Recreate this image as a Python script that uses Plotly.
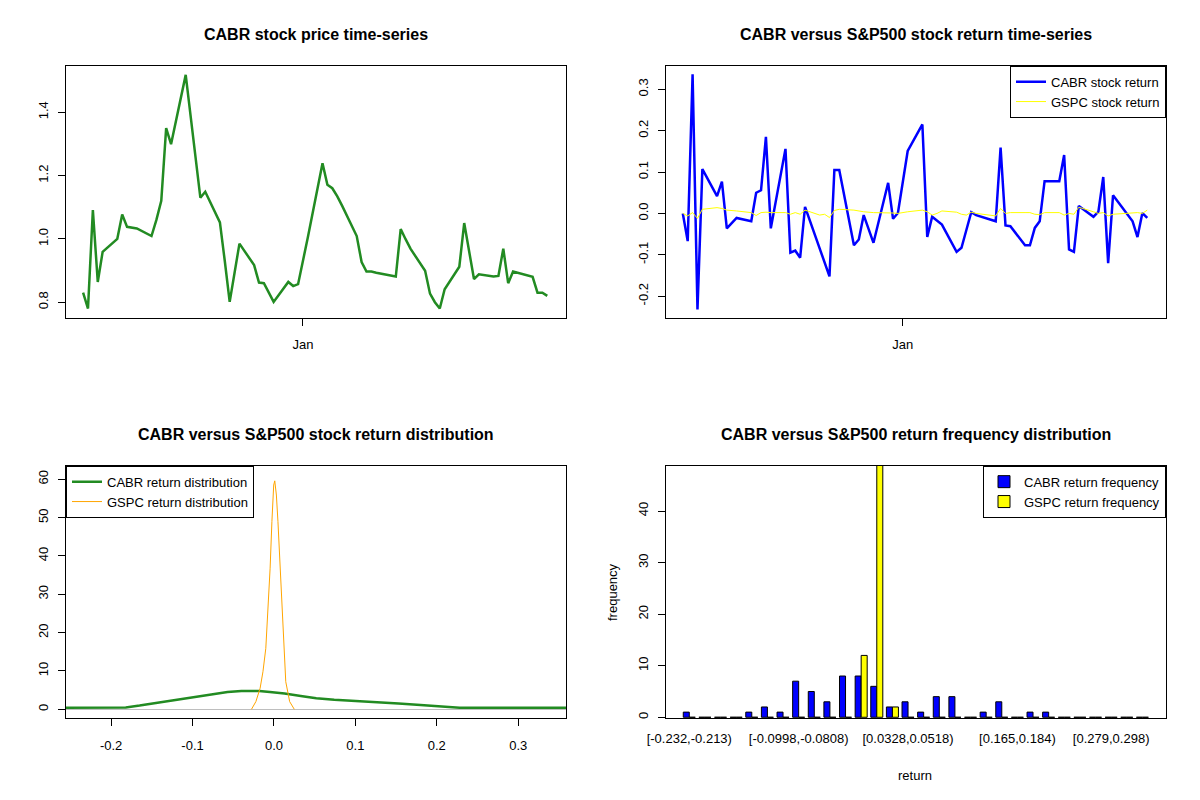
import plotly.graph_objects as go

# trading days shown in the two time-series panels
dates = ["2014-11-17", "2014-11-18", "2014-11-19", "2014-11-20", "2014-11-21",
         "2014-11-24", "2014-11-25", "2014-11-26", "2014-11-28",
         "2014-12-01", "2014-12-02", "2014-12-03", "2014-12-04", "2014-12-05",
         "2014-12-08", "2014-12-09", "2014-12-10", "2014-12-11", "2014-12-12",
         "2014-12-15", "2014-12-16", "2014-12-17", "2014-12-18", "2014-12-19",
         "2014-12-22", "2014-12-23", "2014-12-24", "2014-12-26",
         "2014-12-29", "2014-12-30", "2014-12-31", "2015-01-02",
         "2015-01-05", "2015-01-06", "2015-01-07", "2015-01-08", "2015-01-09",
         "2015-01-12", "2015-01-13", "2015-01-14", "2015-01-15", "2015-01-16",
         "2015-01-20", "2015-01-21", "2015-01-22", "2015-01-23",
         "2015-01-26", "2015-01-27", "2015-01-28", "2015-01-29", "2015-01-30",
         "2015-02-02", "2015-02-03", "2015-02-04", "2015-02-05", "2015-02-06",
         "2015-02-09", "2015-02-10", "2015-02-11", "2015-02-12", "2015-02-13",
         "2015-02-17", "2015-02-18", "2015-02-19", "2015-02-20"]

cabr_price = [0.830, 0.780, 1.091, 0.864, 0.959, 1.000, 1.077, 1.038, 1.033,
              1.009, 1.060, 1.120, 1.350, 1.299, 1.518, 1.395, 1.265, 1.130, 1.149,
              1.052, 0.930, 0.801, 0.893, 0.985, 0.917, 0.862, 0.860, 0.801,
              0.864, 0.851, 0.857, 1.005, 1.239, 1.171, 1.160, 1.135, 1.105,
              1.009, 0.927, 0.897, 0.897, 0.893, 0.881, 1.031, 0.999, 0.969,
              0.899, 0.827, 0.800, 0.780, 0.841, 0.912, 1.050, 0.962, 0.873, 0.888,
              0.881, 0.883, 0.969, 0.860, 0.897, 0.880, 0.830, 0.830, 0.820]

cabr_return = [0.000, -0.067, 0.336, -0.232, 0.107, 0.042, 0.077, -0.036, -0.011,
               -0.019, 0.050, 0.056, 0.185, -0.036, 0.156, -0.095, -0.090, -0.107, 0.016,
               -0.085, -0.120, -0.152, 0.105, 0.105, -0.077, -0.063, -0.004, -0.071,
               0.074, -0.013, 0.001, 0.151, 0.215, -0.057, -0.008, -0.017, -0.027,
               -0.093, -0.083, -0.040, 0.003, -0.004, -0.019, 0.159, -0.029, -0.031,
               -0.077, -0.077, -0.035, -0.019, 0.078, 0.078, 0.141, -0.087, -0.093, 0.018,
               -0.008, 0.004, 0.088, -0.120, 0.044, -0.019, -0.057, 0.001, -0.011]

gspc_return = [0.000, -0.006, 0.002, -0.012, 0.010, 0.014, 0.012, 0.008, 0.006,
               0.002, -0.005, 0.002, 0.003, 0.002, 0.002, -0.002, 0.002, -0.002, 0.008,
               -0.004, -0.002, -0.010, 0.007, 0.010, 0.008, 0.006, 0.004, 0.002,
               0.002, 0.001, 0.000, 0.004, 0.008, 0.004, -0.004, 0.000, 0.006,
               0.003, -0.002, -0.004, 0.003, 0.000, -0.006, 0.012, 0.000, 0.002,
               0.002, 0.002, -0.002, -0.003, 0.002, 0.002, -0.004, 0.000, -0.002, 0.015,
               0.004, 0.000, 0.002, -0.006, -0.002, 0.002, 0.002, 0.000, 0.008]

# density curves
cabr_dens_x = [-0.256, -0.182, -0.165, -0.145, -0.123, -0.101, -0.079, -0.057, -0.040,
               -0.018, -0.005, 0.013, 0.035, 0.052, 0.074, 0.101, 0.127, 0.153,
               0.180, 0.206, 0.228, 0.359]
cabr_dens_y = [0.43, 0.5, 0.96, 1.6, 2.35, 3.1, 3.9, 4.5, 4.8,
               4.8, 4.5, 4.1, 3.4, 2.9, 2.5, 2.2, 1.8, 1.5,
               1.1, 0.8, 0.43, 0.43]
gspc_dens_x = [-0.0276, -0.0222, -0.0170, -0.0135, -0.0100, -0.0069, -0.0047, -0.0025,
               -0.0003, 0.0010, 0.0030, 0.0049, 0.0075, 0.0097, 0.0119, 0.0145,
               0.0193, 0.0250]
gspc_dens_y = [0.0, 2.0, 5.5, 9.8, 15.9, 27.2, 36.8, 49.0,
               58.5, 59.6, 55.9, 49.0, 36.8, 25.5, 15.9, 7.2,
               2.0, 0.0]

# return frequency bins
bin_labels = ["[-0.232,-0.213)", "[-0.213,-0.194)", "[-0.194,-0.176)", "[-0.176,-0.157)",
              "[-0.157,-0.138)", "[-0.138,-0.119)", "[-0.119,-0.0998)", "[-0.0998,-0.0808)",
              "[-0.0808,-0.0619)", "[-0.0619,-0.0429)", "[-0.0429,-0.024)", "[-0.024,-0.00504)",
              "[-0.00504,0.0139)", "[0.0139,0.0328)", "[0.0328,0.0518)", "[0.0518,0.0707)",
              "[0.0707,0.0897)", "[0.0897,0.109)", "[0.109,0.128)", "[0.128,0.146)",
              "[0.146,0.165)", "[0.165,0.184)", "[0.184,0.203)", "[0.203,0.222)",
              "[0.222,0.241)", "[0.241,0.26)", "[0.26,0.279)", "[0.279,0.298)",
              "[0.298,0.317)", "[0.317,0.336)"]
cabr_freq = [1, 0, 0, 0, 1, 2, 1, 7, 5, 3, 8, 8, 6, 2, 3, 1, 4, 4, 0, 1, 3, 0, 1, 1,
             0, 0, 0, 0, 0, 0]
gspc_freq = [0, 0, 0, 0, 0, 0, 0, 0, 0, 0, 0, 12, 49, 2, 0, 0, 0, 0, 0, 0, 0, 0, 0, 0,
             0, 0, 0, 0, 0, 0]
shown_bins = [bin_labels[0], bin_labels[7], bin_labels[14], bin_labels[21], bin_labels[27]]

FONT = "Arial, Liberation Sans, sans-serif"
W, H = 1200, 800
PAGE_OFF = 8  # the page body puts the plot 8px in from the top-left corner


def px(x):
    return (x - PAGE_OFF) / W


def py(y):
    return 1 - (y - PAGE_OFF) / H


fig = go.Figure()

fig.add_trace(go.Scatter(x=dates, y=cabr_price, mode="lines",
                         line=dict(color="#228B22", width=2.5),
                         xaxis="x", yaxis="y", showlegend=False))

fig.add_trace(go.Scatter(x=dates, y=cabr_return, mode="lines", name="CABR stock return",
                         line=dict(color="#0000FF", width=2.5),
                         xaxis="x2", yaxis="y2", legend="legend2"))
fig.add_trace(go.Scatter(x=dates, y=gspc_return, mode="lines", name="GSPC stock return",
                         line=dict(color="#FFFF00", width=1),
                         xaxis="x2", yaxis="y2", legend="legend2"))

fig.add_trace(go.Scatter(x=cabr_dens_x, y=cabr_dens_y, mode="lines", name="CABR return distribution",
                         line=dict(color="#228B22", width=2.5),
                         xaxis="x3", yaxis="y3", legend="legend3"))
fig.add_trace(go.Scatter(x=gspc_dens_x, y=gspc_dens_y, mode="lines", name="GSPC return distribution",
                         line=dict(color="#FFA500", width=1),
                         xaxis="x3", yaxis="y3", legend="legend3"))

fig.add_trace(go.Bar(x=bin_labels, y=cabr_freq, name="CABR return frequency",
                     marker=dict(color="#0000FF", line=dict(color="black", width=1)),
                     xaxis="x4", yaxis="y4", legend="legend4"))
fig.add_trace(go.Bar(x=bin_labels, y=gspc_freq, name="GSPC return frequency",
                     marker=dict(color="#FFFF00", line=dict(color="black", width=1)),
                     xaxis="x4", yaxis="y4", legend="legend4"))

# panel boxes (pixel positions of the reference turned into paper fractions)
left_dom = [px(66), px(566)]
right_dom = [px(665.7), px(1166)]
top_dom = [py(317.7), py(65.7)]
bot_dom = [py(718.3), py(465.7)]

ax = dict(showline=True, mirror=True, linecolor="black", linewidth=1,
          ticks="outside", ticklen=7, tickcolor="black", showgrid=False,
          zeroline=False, automargin=False, ticklabelstandoff=8,
          tickfont=dict(size=13, color="black", family=FONT))
yax = dict(ax, tickangle=-90, ticklabelstandoff=5)

date_range = ["2014-11-13 12:00", "2015-02-23 20:00"]

fig.update_layout(
    width=W, height=H,
    margin=dict(l=0, r=0, t=0, b=0),
    paper_bgcolor="white", plot_bgcolor="white",
    font=dict(family=FONT, size=13, color="black"),
    barmode="group", bargap=0.23, bargroupgap=0,
    xaxis=dict(ax, domain=left_dom, anchor="y", type="date", range=date_range,
               tickmode="array", tickvals=["2015-01-01"], ticktext=["Jan"]),
    yaxis=dict(yax, domain=top_dom, anchor="x", range=[0.751, 1.547],
               tickmode="array", tickvals=[0.8, 1.0, 1.2, 1.4],
               ticktext=["0.8", "1.0", "1.2", "1.4"]),
    xaxis2=dict(ax, domain=right_dom, anchor="y2", type="date", range=date_range,
                tickmode="array", tickvals=["2015-01-01"], ticktext=["Jan"]),
    yaxis2=dict(yax, domain=top_dom, anchor="x2", range=[-0.252, 0.357],
                tickmode="array", tickvals=[-0.2, -0.1, 0, 0.1, 0.2, 0.3],
                ticktext=["-0.2", "-0.1", "0.0", "0.1", "0.2", "0.3"]),
    xaxis3=dict(ax, domain=left_dom, anchor="y3", range=[-0.2554, 0.3587],
                tickmode="array", tickvals=[-0.2, -0.1, 0, 0.1, 0.2, 0.3],
                ticktext=["-0.2", "-0.1", "0.0", "0.1", "0.2", "0.3"]),
    yaxis3=dict(yax, domain=bot_dom, anchor="x3", range=[-2.35, 63.55],
                tickmode="array", tickvals=[0, 10, 20, 30, 40, 50, 60],
                zeroline=True, zerolinecolor="#BEBEBE", zerolinewidth=1),
    xaxis4=dict(ax, domain=right_dom, anchor="y4", type="category", ticks="",
                range=[-1.51, 30.51], tickmode="array", tickvals=shown_bins,
                ticktext=shown_bins),
    yaxis4=dict(yax, domain=bot_dom, anchor="x4", range=[-0.2, 48.8],
                tickmode="array", tickvals=[0, 10, 20, 30, 40]),
)

leg = dict(bgcolor="white", bordercolor="black", borderwidth=1,
           font=dict(size=13, color="black", family=FONT), itemwidth=30,
           yanchor="top", tracegroupgap=0)
fig.update_layout(
    legend2=dict(leg, x=px(1166), xanchor="right", y=py(65.7)),
    legend3=dict(leg, x=px(66), xanchor="left", y=py(465.7)),
    legend4=dict(leg, x=px(1166), xanchor="right", y=py(465.7)),
)

titles = [("CABR stock price time-series", 316, 35),
          ("CABR versus S&P500 stock return time-series", 916, 35),
          ("CABR versus S&P500 stock return distribution", 316, 435),
          ("CABR versus S&P500 return frequency distribution", 916, 435)]
for text, tx, ty in titles:
    fig.add_annotation(text="<b>" + text + "</b>", xref="paper", yref="paper",
                       x=px(tx), y=py(ty), showarrow=False,
                       xanchor="center", yanchor="middle",
                       font=dict(size=16, color="black", family=FONT))

fig.add_annotation(text="return", xref="paper", yref="paper", x=px(915), y=py(775),
                   showarrow=False, xanchor="center", yanchor="middle", font=dict(size=13))
fig.add_annotation(text="frequency", xref="paper", yref="paper", x=px(612), y=py(592),
                   showarrow=False, textangle=-90, xanchor="center", yanchor="middle",
                   font=dict(size=13))

fig.write_html("out.html")
